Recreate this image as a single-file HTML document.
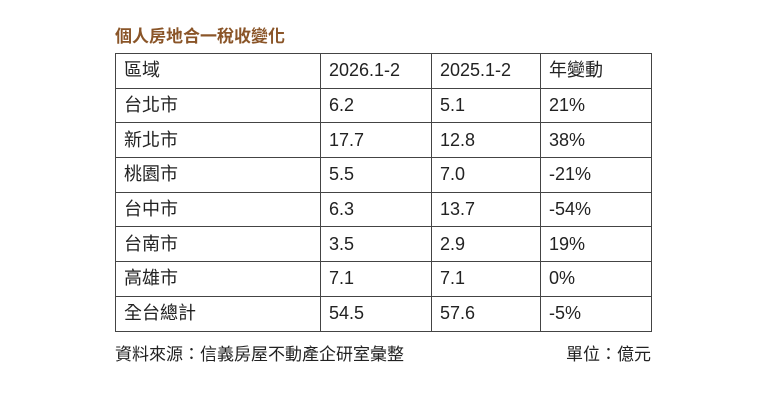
<!DOCTYPE html>
<html><head><meta charset="utf-8"><style>
body{margin:0;width:760px;height:401px;background:#fff;position:relative;font-family:"Liberation Sans","Noto Sans CJK TC",sans-serif;color:#222;overflow:hidden}
.t{position:absolute;left:115px;top:22px;font-size:17px;font-weight:bold;color:#8a5528}
table{position:absolute;left:115px;top:53px;border-collapse:collapse}
td{border:1.5px solid #444;height:34.7px;padding:0 0 0 8px;font-size:18px;line-height:33px;box-sizing:border-box}
.f{position:absolute;top:340px;font-size:17px}
</style></head><body>
<div class="t">個人房地合一稅收變化</div>
<table>
<tr><td style="width:205px">區域</td><td style="width:111px">2026.1-2</td><td style="width:109px">2025.1-2</td><td style="width:111px">年變動</td></tr>
<tr><td>台北市</td><td>6.2</td><td>5.1</td><td>21%</td></tr>
<tr><td>新北市</td><td>17.7</td><td>12.8</td><td>38%</td></tr>
<tr><td>桃園市</td><td>5.5</td><td>7.0</td><td>-21%</td></tr>
<tr><td>台中市</td><td>6.3</td><td>13.7</td><td>-54%</td></tr>
<tr><td>台南市</td><td>3.5</td><td>2.9</td><td>19%</td></tr>
<tr><td>高雄市</td><td>7.1</td><td>7.1</td><td>0%</td></tr>
<tr><td>全台總計</td><td>54.5</td><td>57.6</td><td>-5%</td></tr>
</table>
<div class="f" style="left:115px">資料來源：信義房屋不動產企研室彙整</div>
<div class="f" style="left:566px">單位：億元</div>
</body></html>
